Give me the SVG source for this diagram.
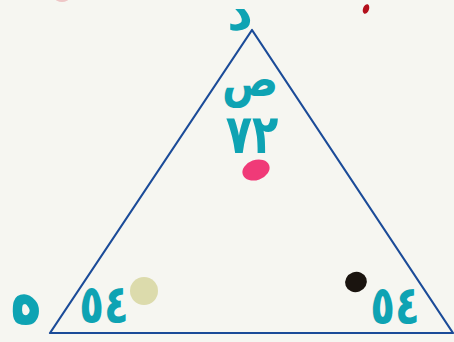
<svg xmlns="http://www.w3.org/2000/svg" width="454" height="342" viewBox="0 0 454 342">
<style>
.t{font-family:"DejaVu Sans","Noto Sans",sans-serif;font-weight:bold;fill:#0ea3b3;text-anchor:middle}
</style>
<rect width="454" height="342" fill="#f6f6f1"/>
<ellipse cx="62" cy="-2" rx="7" ry="4" fill="#eec6c6"/>
<ellipse cx="366" cy="9" rx="3" ry="5" transform="rotate(20 366 9)" fill="#b3101c"/>
<polygon points="252,30 50,333 453,333" fill="none" stroke="#1b4b98" stroke-width="2.2" stroke-linejoin="round"/>
<text class="t" font-size="50" transform="translate(240,30)">د</text>
<text class="t" font-size="44" transform="translate(250,96) scale(0.95,1.1)">ص</text>
<text class="t" font-size="54" transform="translate(252,153) scale(0.8,1)">٧٢</text>
<ellipse cx="256" cy="170" rx="14" ry="10" transform="rotate(-20 256 170)" fill="#f03a78"/>
<text class="t" font-size="56" transform="translate(26,323) scale(0.95,1.4)">ه</text>
<text class="t" font-size="54" transform="translate(104,323) scale(0.75,1)">٥٤</text>
<circle cx="144" cy="291" r="14" fill="#dcdbac"/>
<ellipse cx="356" cy="282" rx="11" ry="10" transform="rotate(-20 356 282)" fill="#1a140f"/>
<text class="t" font-size="54" transform="translate(395,324) scale(0.75,1)">٥٤</text>
</svg>
